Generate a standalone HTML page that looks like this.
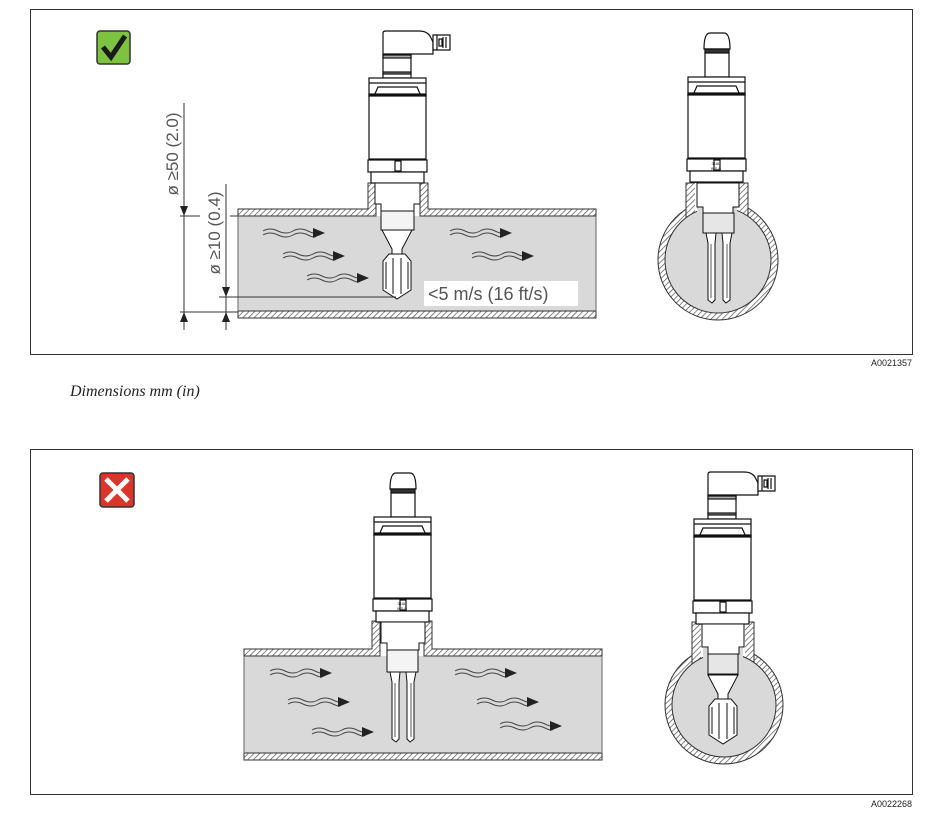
<!DOCTYPE html>
<html><head><meta charset="utf-8"><style>html,body{margin:0;padding:0;background:#fff}svg{display:block}</style></head>
<body>
<svg width="941" height="839" viewBox="0 0 941 839" xmlns="http://www.w3.org/2000/svg" font-family="Liberation Sans, sans-serif">
<defs>
<pattern id="h" width="4" height="4" patternUnits="userSpaceOnUse" patternTransform="rotate(45)">
<rect width="4" height="4" fill="#fff"/><line x1="0" y1="0" x2="0" y2="4" stroke="#444" stroke-width="1.3"/></pattern>
<g id="flow">
<path d="M0,-2 q7,-4 15,0 t15,0 t15,0 t8,0" fill="none" stroke="#444" stroke-width="1"/>
<path d="M0,2 q7,-4 15,0 t15,0 t15,0 t8,0" fill="none" stroke="#444" stroke-width="1"/>
<path d="M50,-5 L62,0 L50,5 Z" fill="#222"/>
</g>
<g id="body" fill="#fff" stroke="#111" stroke-width="1.2">
<rect x="0" y="0" width="57" height="18"/>
<path d="M0,5 H57 M5,18 L9,9 H48 L52,18" fill="none"/>
<rect x="0" y="16" width="57" height="2.5" fill="#111"/>
<rect x="0" y="18" width="57" height="63"/>
<rect x="-1" y="82" width="59" height="12"/>
<rect x="26" y="83" width="6" height="10" fill="#fff"/>
<rect x="2" y="94" width="53" height="11"/>
</g>
<g id="elbow" fill="#fff" stroke="#111" stroke-width="1.2">
<path d="M14,-45 Q14,-47 17,-47 H50 Q59,-47 62,-40 L64,-36 V-24 H14 Z"/>
<path d="M64,-43 H81 V-28 H64 Z"/>
<path d="M68,-43 V-28 M74,-41 V-30 M77,-41 V-30 M70,-39 h3 v7 h-3 z" fill="none"/>
<rect x="14" y="-23" width="28" height="23"/>
<rect x="14" y="-23" width="28" height="3" fill="#aaa"/>
<rect x="14" y="-6" width="28" height="2" fill="#888"/>
</g>
<g id="straight" fill="#fff" stroke="#111" stroke-width="1.2">
<path d="M16,-28 Q16,-44 22,-44 H36 Q42,-44 42,-28 Z"/>
<rect x="17" y="-28" width="24" height="4" fill="#333"/>
<rect x="17" y="-24" width="24" height="24"/>
</g>
<g id="fork" fill="#fff" stroke="#111" stroke-width="1">
<path d="M13,152 L23,171 V178 H33 V171 L43,152 Z"/>
<path d="M20,176 H36 L42,183 V212 L28,221 L14,212 V183 Z"/>
<path d="M17,184 V211 M39,184 V211 M24,180 V216 M32,180 V216" fill="none"/>
</g>
<g id="tines" fill="#fff" stroke="#111" stroke-width="1">
<path d="M16,155 H26 L25,165 V222 L22,225 L18,222 V165 Z"/>
<path d="M42,155 H32 L33,165 V222 L36,225 L40,222 V165 Z"/>
<path d="M21,166 V220 M37,166 V220" fill="none" stroke-width="0.7"/>
</g>
</defs>

<rect x="30.5" y="9.5" width="882" height="345" fill="none" stroke="#333"/>
<rect x="97" y="31" width="33" height="33" rx="3" fill="#7dc241" stroke="#333" stroke-width="1.5"/>
<path d="M103,47 L111,57 L125,36" fill="none" stroke="#1a1a1a" stroke-width="5"/>

<rect x="238" y="216" width="358" height="95" fill="#d9d9d9"/>
<path d="M238,209 H368 V183 H376 V216 H238 Z M596,209 H428 V183 H420 V216 H596 Z" fill="url(#h)" stroke="#333"/>
<rect x="238" y="311" width="358" height="7" fill="url(#h)" stroke="#333"/>
<path d="M238,216 V311 M596,216 V311" stroke="#666" fill="none"/>
<use href="#flow" x="263" y="233"/><use href="#flow" x="283" y="256"/><use href="#flow" x="307" y="278"/>
<use href="#flow" x="450" y="233"/><use href="#flow" x="472" y="256"/>
<g transform="translate(369,78)">
<use href="#elbow"/><use href="#body"/>
<path d="M6,105 H51 V126 H45 V133 H12 V126 H6 Z" fill="#fff" stroke="#111"/>
<path d="M12,133 H45 V152 H12 Z" fill="#f4f4f4" stroke="#111"/>
<use href="#fork"/>
</g>
<g stroke="#333" stroke-width="1" fill="none">
<path d="M184,103 V330 M180,216 H200 M180,312 H238 M226,184 V330 M219,297 H396 M230,216 H238"/>
</g>
<path d="M180,206 L184,216 L188,206 Z M180,322 L184,312 L188,322 Z M222,287 L226,297 L230,287 Z M222,322 L226,312 L230,322 Z" fill="#222"/>
<text transform="translate(178,154) rotate(-90)" text-anchor="middle" font-size="17" fill="#555">ø ≥50 (2.0)</text>
<text transform="translate(220,233) rotate(-90)" text-anchor="middle" font-size="17" fill="#555">ø ≥10 (0.4)</text>
<rect x="424" y="281" width="154" height="25" fill="#fff"/>
<text x="428" y="300" font-size="18" fill="#555">&lt;5 m/s (16 ft/s)</text>

<circle cx="718" cy="260" r="60" fill="url(#h)" stroke="#333"/>
<rect x="686" y="183" width="62" height="45" fill="url(#h)" stroke="#333"/>
<rect x="695" y="183" width="44" height="50" fill="#fff"/>
<circle cx="718" cy="260" r="53" fill="#d9d9d9" stroke="#333"/>
<rect x="697" y="205" width="40" height="10" fill="#d9d9d9"/>
<g transform="translate(688,77)">
<use href="#straight"/><use href="#body"/>
<text x="28" y="88" font-size="4" text-anchor="middle" fill="#222">316L</text>
<text x="28" y="93" font-size="4" text-anchor="middle" fill="#222">WS B</text>
<path d="M9,106 H51 V130 H45 V136 H15 V130 H9 Z" fill="#fff" stroke="#111"/>
<rect x="15" y="136" width="31" height="20" fill="#e6e6e6" stroke="#111"/>
<use href="#tines" x="2" y="1"/>
</g>
<text x="912" y="366" font-size="9" text-anchor="end" fill="#222">A0021357</text>

<text x="70" y="396" font-family="Liberation Serif, serif" font-style="italic" font-size="16" fill="#222">Dimensions mm (in)</text>

<rect x="30.5" y="449.5" width="882" height="345" fill="none" stroke="#333"/>
<rect x="100" y="473" width="34" height="34" rx="3" fill="#d9352a" stroke="#333" stroke-width="1.5"/>
<path d="M106,479 L128,501 M128,479 L106,501" stroke="#fff" stroke-width="5"/>

<rect x="244" y="656" width="358" height="97" fill="#d9d9d9"/>
<path d="M244,649 H372 V621 H380 V656 H244 Z M602,649 H432 V621 H424 V656 H602 Z" fill="url(#h)" stroke="#333"/>
<rect x="244" y="753" width="358" height="7" fill="url(#h)" stroke="#333"/>
<path d="M244,656 V753 M602,656 V753" stroke="#666" fill="none"/>
<use href="#flow" x="270" y="673"/><use href="#flow" x="288" y="702"/><use href="#flow" x="312" y="732"/>
<use href="#flow" x="455" y="673"/><use href="#flow" x="477" y="702"/><use href="#flow" x="500" y="726"/>
<g transform="translate(374,517)">
<use href="#straight"/><use href="#body"/>
<text x="28" y="88" font-size="4" text-anchor="middle" fill="#222">316L</text>
<text x="28" y="93" font-size="4" text-anchor="middle" fill="#222">WS B</text>
<path d="M7,105 H51 V126 H45 V133 H13 V126 H7 Z" fill="#fff" stroke="#111"/>
<rect x="13" y="133" width="31" height="22" fill="#f4f4f4" stroke="#111"/>
<use href="#tines"/>
</g>

<circle cx="724" cy="705" r="59" fill="url(#h)" stroke="#333"/>
<rect x="692" y="622" width="62" height="48" fill="url(#h)" stroke="#333"/>
<rect x="701" y="622" width="44" height="52" fill="#fff"/>
<circle cx="724" cy="705" r="52" fill="#d9d9d9" stroke="#333"/>
<rect x="703" y="648" width="40" height="12" fill="#d9d9d9"/>
<g transform="translate(694,519)">
<use href="#elbow"/><use href="#body"/>
<path d="M8,105 H50 V128 H45 V135 H14 V128 H8 Z" fill="#fff" stroke="#111"/>
<rect x="14" y="135" width="30" height="20" fill="#e6e6e6" stroke="#111"/>
<use href="#fork" x="1" y="4"/>
</g>
<text x="912" y="807" font-size="9" text-anchor="end" fill="#222">A0022268</text>
</svg>
</body></html>
